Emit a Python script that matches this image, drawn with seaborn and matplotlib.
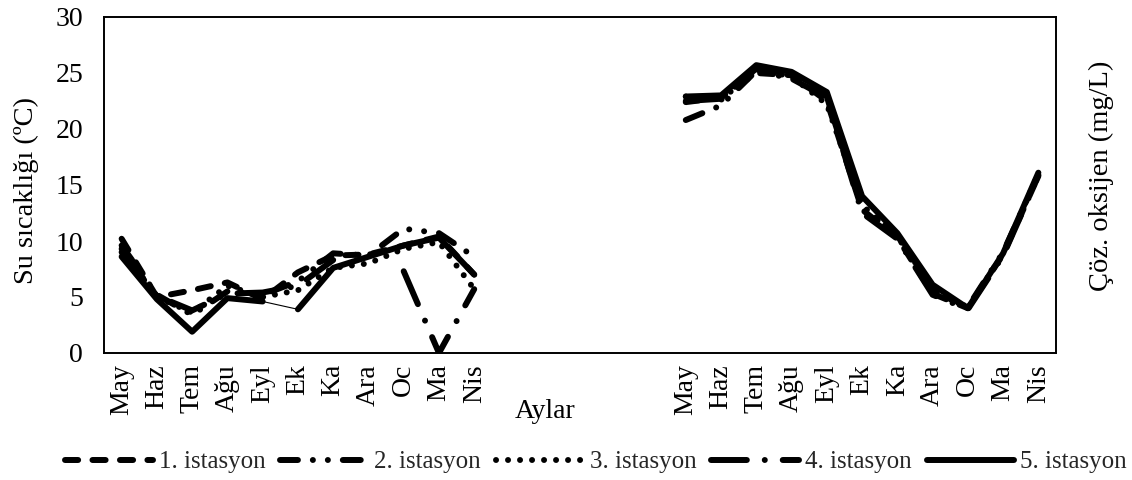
import numpy as np
import matplotlib
matplotlib.use("Agg")
import matplotlib.pyplot as plt
import seaborn as sns
from matplotlib.lines import Line2D

# ---------------- data ----------------
months = ["May", "Haz", "Tem", "Ağu", "Eyl", "Ek", "Ka", "Ara", "Oc", "Ma", "Nis"]
station_names = ["1. istasyon", "2. istasyon", "3. istasyon", "4. istasyon", "5. istasyon"]

nan = np.nan
# left block (Su sıcaklığı)
temp_s1 = [10.2, 5.0, 5.6, 6.3, 4.8, 7.2, 8.7, 8.8, 9.6, 10.4, 7.0]
temp_s2 = [9.6, 5.2, 3.4, 5.5, 5.2, 6.4, 8.9, 8.7, 11.1, 10.7, 8.6]
temp_s3 = [9.3, 5.0, 3.6, 6.0, 5.0, 5.6, 7.6, 8.0, 9.3, 9.9, 5.7]
temp_s4 = [9.0, 5.1, 3.8, 5.3, 5.4, 6.0, 8.3, nan, 7.3, 0.0, 5.7]
temp_s5 = [8.6, 4.8, 1.9, 4.9, 4.6, 3.9, 7.6, 8.6, 9.6, 10.3, 7.0]

# right block (Çöz. oksijen)
oxy_s1 = [22.4, 22.8, 25.0, 24.8, 22.5, 12.8, 10.3, 5.3, 4.0, 8.8, 15.8]
oxy_s2 = [20.8, 22.1, 25.2, 24.5, 22.8, 13.0, 10.5, 5.5, 4.1, 9.0, 15.9]
oxy_s3 = [22.9, 22.6, 25.3, 24.7, 22.2, 13.2, 10.4, 5.8, 4.0, 8.9, 16.0]
oxy_s4 = [22.5, 22.7, 25.4, 24.9, 22.9, 12.5, 10.2, 5.2, 3.9, 8.7, 15.8]
oxy_s5 = [22.9, 23.0, 25.7, 25.1, 23.3, 14.0, 10.7, 6.1, 4.0, 8.9, 16.1]

y_ticks = [0, 5, 10, 15, 20, 25, 30]

temps = [temp_s1, temp_s2, temp_s3, temp_s4, temp_s5]
oxys = [oxy_s1, oxy_s2, oxy_s3, oxy_s4, oxy_s5]

# ---------------- style ----------------
sns.set_theme(style="white")
plt.rcParams['font.family'] = ['Liberation Serif', 'DejaVu Serif']

W, H = 1132, 480
fig = plt.figure(figsize=(W / 100, H / 100), dpi=100)
ax = fig.add_axes([104 / W, 1 - 353 / H, 952 / W, 336 / H])

n = len(months)
gap = 5
x_left = np.arange(n)
x_right = np.arange(n) + n + gap

LW = 4.3
dash_styles = [(2.2, 2.4),
               (3.0, 2.5, 0.01, 2.5, 0.01, 2.5),
               (0.01, 2.0),
               (6.0, 3.0, 0.01, 3.0),
               None]


def style_line(line, dashes):
    if dashes:
        line.set_dashes(dashes)
        line.set_dash_capstyle('round')
        line.set_dash_joinstyle('round')
    else:
        line.set_solid_capstyle('round')
        line.set_solid_joinstyle('round')


def draw(xs, ys, dashes, lw=LW, idx_sel=None):
    ys = np.asarray(ys, float)
    valid = ~np.isnan(ys)
    idx = np.where(valid)[0]
    if idx_sel is not None:
        idx = np.array([i for i in idx if i in idx_sel])
    if len(idx) == 0:
        return
    runs = np.split(idx, np.where(np.diff(idx) != 1)[0] + 1)
    for r in runs:
        if len(r) < 2:
            continue
        sns.lineplot(x=xs[r], y=ys[r], ax=ax, color='black', linewidth=lw,
                     sort=False, estimator=None)
        style_line(ax.lines[-1], dashes)


for k in range(5):
    if k == 4:
        # station 5, left block: thin connector between Eyl and Ek
        draw(x_left, temps[k], None, idx_sel=set(range(0, 5)))
        draw(x_left, temps[k], None, lw=0.8, idx_sel={4, 5})
        draw(x_left, temps[k], None, idx_sel=set(range(5, n)))
    else:
        draw(x_left, temps[k], dash_styles[k])
    draw(x_right, oxys[k], dash_styles[k])

ax.set_xlim(-0.5, 2 * n + gap - 0.5)
ax.set_ylim(0, 30)
ax.set_yticks(y_ticks)
ax.set_xticks(np.concatenate([x_left, x_right]))
ax.set_xticklabels(months + months, rotation=90)
ax.tick_params(axis='both', length=0, labelsize=20, colors='black')
ax.tick_params(axis='x', pad=8)
ax.tick_params(axis='y', pad=15)
for s in ax.spines.values():
    s.set_visible(True)
    s.set_color('black')
    s.set_linewidth(1.4)

ax.set_xlabel("Aylar", fontsize=20, color='black')
ax.xaxis.set_label_coords((545 - 104) / 952, (353 - 411) / 336)
ax.xaxis.label.set_verticalalignment('center')

ax.set_ylabel("Su sıcaklığı (ºC)", fontsize=20.5, color='black')
ax.yaxis.set_label_coords((26 - 104) / 952, (353 - 190) / 336)
ax.yaxis.label.set_rotation_mode('default')
ax.yaxis.label.set_verticalalignment('center')
ax.yaxis.label.set_horizontalalignment('center')

ax2 = ax.twinx()
ax2.set_yticks([])
for s in ax2.spines.values():
    s.set_visible(False)
ax2.set_ylabel("Çöz. oksijen (mg/L)", fontsize=20.5, color='black')
ax2.yaxis.set_label_coords((1101 - 104) / 952, (353 - 176) / 336)
ax2.yaxis.label.set_rotation_mode('default')
ax2.yaxis.label.set_verticalalignment('center')
ax2.yaxis.label.set_horizontalalignment('center')

handles = []
for k in range(5):
    h = Line2D([], [], color='black', linewidth=LW)
    style_line(h, dash_styles[k])
    handles.append(h)
fig.legend(handles, station_names, loc='center',
           bbox_to_anchor=(596 / W, 1 - 462 / H), ncol=5, frameon=False,
           fontsize=18, handlelength=3.5, handletextpad=0.25, columnspacing=0.6)

fig.savefig("out.png", dpi=100, facecolor='white')
